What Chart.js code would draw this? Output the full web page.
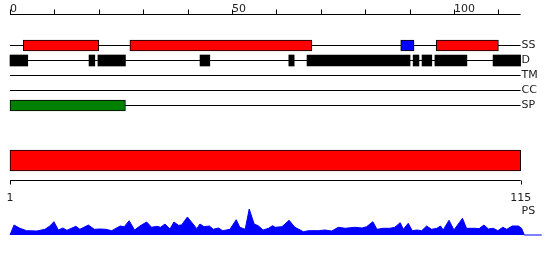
<!DOCTYPE html>
<html>
<head>
<meta charset="utf-8">
<script src="https://cdn.jsdelivr.net/npm/chart.js@4/dist/chart.umd.min.js"></script>
<style>
    html, body { margin: 0; padding: 0; background: #fff; }
</style>
</head>
<body>
<canvas id="featureMap" width="550" height="260"></canvas>
<script>
// sequence and rulers
const seqLength = 115;
const topTicks = [0, 10, 20, 30, 40, 50, 60, 70, 80, 90, 100, 110];
const topTickLabels = ["0", "", "", "", "", "50", "", "", "", "", "100", ""];
const psTicks = [1, 115];
const psTickLabels = ["1", "115"];

// feature tracks (residue ranges)
const trackNames = ["SS", "D", "TM", "CC", "SP"];
const ssRanges = [[3, 20], [27, 68], [88, 91], [96, 110]];
const ssKinds = ["helix", "helix", "strand", "helix"];
const disorderRanges = [[0, 4], [17.8, 19.1], [19.8, 26], [42.8, 45], [62.8, 64],
    [66.9, 90.1], [90.8, 92.1], [92.8, 95], [95.7, 102.9], [108.8, 115]];
const tmRanges = [];
const ccRanges = [];
const spRanges = [[0, 26]];
const psRange = [1, 115];

// PS profile
const psPos = [1.0, 1.9, 3.2, 4.7, 7.0, 8.8, 9.9, 10.8, 11.8, 12.8, 13.7, 15.7, 16.6, 18.5, 19.8,
    21.1, 22.4, 23.7, 25.6, 26.5, 27.6, 28.8, 30.0, 31.5, 32.6, 33.8, 34.6, 35.6, 36.7, 37.6,
    38.6, 39.3, 40.6, 42.7, 43.4, 44.3, 45.5, 46.4, 47.5, 48.5, 50.1, 51.5, 52.3, 53.5, 54.4,
    55.5, 56.4, 57.5, 58.7, 59.6, 60.2, 61.7, 63.3, 64.6, 66.5, 67.6, 69.8, 71.3, 72.8, 74.3,
    75.8, 78.0, 79.6, 80.6, 82.0, 82.9, 84.3, 85.8, 86.9, 88.1, 88.8, 89.9, 90.8, 91.8, 92.9,
    94.0, 95.1, 96.3, 97.1, 97.7, 99.0, 100.1, 102.0, 102.9, 104.8, 105.7, 106.8, 107.8, 108.9,
    109.9, 111.0, 111.9, 113.1, 114.5, 115.2, 115.8, 119.7];
const psScore = [0, 10, 6.7, 4.3, 4, 5.7, 9, 13.3, 5, 7, 4.7, 8.7, 5.7, 10, 5.7,
    6, 5.7, 4.3, 9, 8.3, 14.3, 5, 9, 13, 7.7, 8.7, 7.7, 11, 6, 13,
    9.7, 10, 18, 6.3, 11, 8.3, 9, 5.7, 7, 4.3, 5.7, 15.3, 7.7, 5.7, 26,
    11, 9.3, 5, 6.7, 9.3, 7.7, 8.3, 14.7, 7.7, 3.3, 4.3, 4.3, 5, 4, 7.7,
    6.7, 7.7, 7, 8.3, 13.3, 5.7, 6.7, 6.7, 7.7, 12.3, 5.7, 11.7, 4.3, 5, 4.3,
    9, 5.7, 6.7, 9, 5, 14.7, 5, 16.7, 6.7, 6.7, 6.3, 10, 6, 6.7,
    4.3, 7.7, 5.7, 9, 9, 6.7, 0, 0];

// layout (pixel rows)
const rowY = { SS: 45.5, D: 60.5, TM: 75.5, CC: 90.5, SP: 105.5 };
const psBarY = 160.5;
const topRulerY = 14.5;
const psRulerY = 180.5;
const psLabelY = 211;

const ssColors = { helix: "#ff0000", strand: "#0000ff" };

function bars(ranges, row) {
    return ranges.map(r => ({ x: r, y: row }));
}

function trackLine(row) {
    return {
        type: "line",
        data: [{ x: 0, y: row }, { x: seqLength, y: row }],
        xAxisID: "x",
        yAxisID: "y",
        borderColor: "#000",
        borderWidth: 1,
        pointRadius: 0,
        order: 2
    };
}

function barSet(data, colors, border, thickness, xId) {
    return {
        type: "bar",
        indexAxis: "y",
        data: data,
        xAxisID: xId || "x",
        yAxisID: "y",
        backgroundColor: colors,
        borderColor: border,
        borderWidth: border ? 1 : 0,
        borderSkipped: false,
        barThickness: thickness,
        grouped: false,
        order: 1
    };
}

// x pixel mapping: 0 -> 10px, 115 -> 520.6px (top); 1 -> 10px, 115 -> 520.7px (PS)
const k1 = (520.6 - 10) / seqLength;
const k2 = (520.7 - 10) / (psRange[1] - psRange[0]);

const rulerPlugin = {
    id: "rulers",
    afterDatasetsDraw(chart) {
        const ctx = chart.ctx;
        const x = chart.scales.x, x2 = chart.scales.x2, y = chart.scales.y;
        ctx.save();
        ctx.strokeStyle = "#000";
        ctx.lineWidth = 1;
        ctx.fillStyle = "#222";
        ctx.font = "11px 'DejaVu Sans'";

        // top ruler
        const ty = y.getPixelForValue(topRulerY);
        ctx.beginPath();
        ctx.moveTo(x.getPixelForValue(0), ty);
        ctx.lineTo(x.getPixelForValue(seqLength), ty);
        topTicks.forEach(t => {
            const px = Math.round(x.getPixelForValue(t)) + 0.5;
            ctx.moveTo(px, ty);
            ctx.lineTo(px, ty - 5);
        });
        ctx.stroke();
        ctx.textAlign = "left";
        ctx.textBaseline = "alphabetic";
        topTicks.forEach((t, i) => {
            if (topTickLabels[i]) ctx.fillText(topTickLabels[i], Math.round(x.getPixelForValue(t)), ty - 3);
        });

        // PS ruler
        const by = y.getPixelForValue(psRulerY);
        ctx.beginPath();
        ctx.moveTo(x2.getPixelForValue(psTicks[0]), by);
        ctx.lineTo(x2.getPixelForValue(psTicks[1]), by);
        psTicks.forEach(t => {
            const px = Math.round(x2.getPixelForValue(t)) + 0.5;
            ctx.moveTo(px, by);
            ctx.lineTo(px, by + 4);
        });
        ctx.stroke();
        ctx.textAlign = "center";
        psTicks.forEach((t, i) => {
            ctx.fillText(psTickLabels[i], x2.getPixelForValue(t), by + 20);
        });

        // track names
        ctx.textAlign = "left";
        ctx.textBaseline = "middle";
        const lx = x.getPixelForValue(seqLength) + 1;
        trackNames.forEach(n => ctx.fillText(n, lx, y.getPixelForValue(rowY[n])));
        ctx.fillText("PS", lx, y.getPixelForValue(psLabelY));
        ctx.restore();
    }
};

new Chart(document.getElementById("featureMap"), {
    type: "bar",
    data: {
        datasets: [
            ...trackNames.map(n => trackLine(rowY[n])),
            barSet(bars(ssRanges, rowY.SS), ssKinds.map(k => ssColors[k]), "#000", 11),
            barSet(bars(disorderRanges, rowY.D), "#000", null, 11),
            barSet(bars(tmRanges, rowY.TM), "#888", "#000", 11),
            barSet(bars(ccRanges, rowY.CC), "#888", "#000", 11),
            barSet(bars(spRanges, rowY.SP), "#008000", "#000", 11),
            barSet([{ x: psRange, y: psBarY }], "#ff0000", "#000", 21, "x2"),
            {
                type: "line",
                data: psPos.map((p, i) => ({ x: p, y: psScore[i] })),
                xAxisID: "x2",
                yAxisID: "ya",
                borderColor: "#0000ff",
                backgroundColor: "#0000ff",
                borderWidth: 1,
                fill: "origin",
                pointRadius: 0,
                tension: 0,
                clip: false,
                order: 1
            }
        ]
    },
    options: {
        responsive: false,
        animation: false,
        layout: { padding: 0 },
        scales: {
            x: { axis: "x", type: "linear", display: false, offset: false,
                 min: -10 / k1, max: seqLength + (550 - 520.6) / k1 },
            x2: { axis: "x", type: "linear", display: false, offset: false,
                  min: psRange[0] - 10 / k2, max: psRange[1] + (550 - 520.7) / k2 },
            y: { axis: "y", type: "linear", display: false, offset: false, reverse: true, min: 0, max: 260 },
            ya: { axis: "y", type: "linear", display: false, offset: false, min: -25, max: 235 }
        },
        plugins: {
            legend: { display: false },
            tooltip: { enabled: false }
        }
    },
    plugins: [rulerPlugin]
});
</script>
</body>
</html>
